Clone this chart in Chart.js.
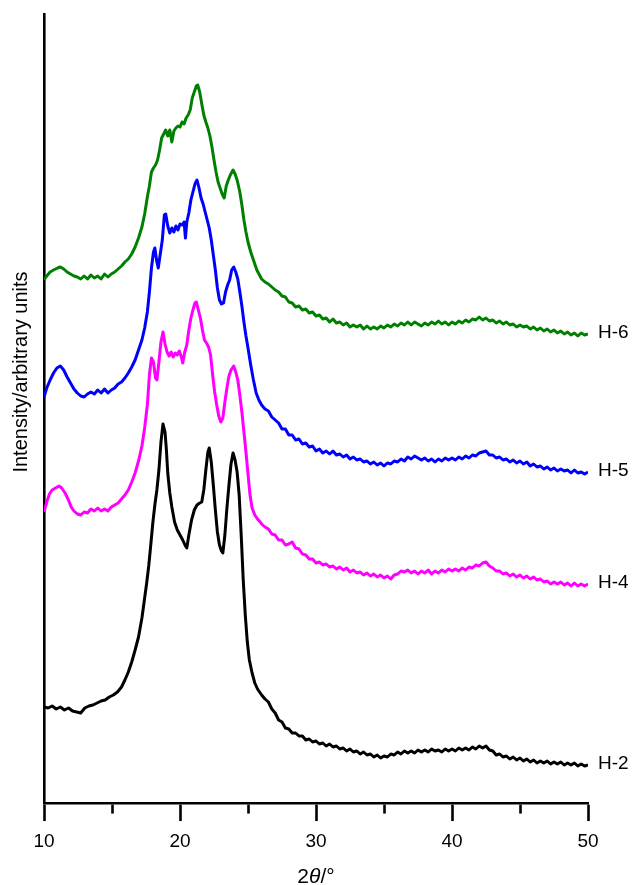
<!DOCTYPE html>
<html>
<head>
<meta charset="utf-8">
<script src="https://cdn.jsdelivr.net/npm/chart.js@4"></script>
<style>
html,body{margin:0;padding:0;background:#fff;}
#wrap{width:632px;height:885px;}
</style>
</head>
<body>
<div id="wrap"><canvas id="c" width="632" height="885"></canvas></div>
<script>
// ---- data (2θ in degrees, intensity in arbitrary units) ----
const xTicks = [10, 20, 30, 40, 50];
const seriesNames = ["H-6", "H-5", "H-4", "H-2"];
const seriesColors = ["#008000", "#0000ff", "#ff00ff", "#000000"];

// 2θ positions of the flat tail (26°–50°), shared by all four patterns
const tailX = [26,26.25,26.5,26.75,27,27.25,27.5,27.75,28,28.25,
  28.5,28.75,29,29.25,29.5,29.75,30,30.25,30.5,30.75,
  31,31.25,31.5,31.75,32,32.25,32.5,32.75,33,33.25,
  33.5,33.75,34,34.25,34.5,34.75,35,35.25,35.5,35.75,
  36,36.25,36.5,36.75,37,37.25,37.5,37.75,38,38.25,
  38.5,38.75,39,39.25,39.5,39.75,40,40.25,40.5,40.75,
  41,41.25,41.5,41.75,42,42.25,42.5,42.75,43,43.25,
  43.5,43.75,44,44.25,44.5,44.75,45,45.25,45.5,45.75,
  46,46.25,46.5,46.75,47,47.25,47.5,47.75,48,48.25,
  48.5,48.75,49,49.25,49.5,49.75,50];

const h6X = [10.0,10.2,10.45,10.7,11.0,11.2,11.45,11.7,11.95,12.2,12.45,12.7,12.95,13.2,13.45,13.7,13.95,14.2,14.45,14.7,14.95,15.2,15.45,15.7,15.95,16.2,16.45,16.7,16.95,17.2,17.4,17.6,17.75,17.9,18.05,18.2,18.35,18.5,18.65,18.8,18.95,19.1,19.25,19.4,19.55,19.7,19.85,20.0,20.15,20.3,20.45,20.6,20.75,20.9,21.05,21.2,21.3,21.45,21.6,21.75,21.9,22.05,22.2,22.35,22.5,22.65,22.8,22.95,23.1,23.25,23.4,23.55,23.7,23.9,24.05,24.2,24.4,24.55,24.7,24.85,25.0,25.2,25.4,25.65].concat(tailX);
const h6Y = [523,527,531,533,535,536,534,531,529,527,526,524,527,524,528,525,527,524,529,526,529,531,534,537,541,544,549,556,565,576,589,606,617,631,635,638,643,653,665,669,673,667,673,661,672,675,677,676,681,679,685,688,693,705,711,717,718,711,699,688,681,675,667,656,643,631,621,615,609,605,617,623,628,633,629,623,611,598,583,571,561,551,543,533,
  524,521,519,516,513,511,507,506,501,500,
  496,497,493,494,490,491,487,488,484,485,
  481,484,480,481,478,480,476,478,476,478,
  474,477,474,476,474,477,475,478,476,479,
  477,480,478,481,478,481,479,477,480,478,
  481,479,482,479,481,478,481,479,482,480,
  483,481,484,483,486,483,485,482,483,480,
  482,479,481,478,479,476,478,476,477,474,
  476,473,475,472,474,471,473,470,472,469,
  471,468,470,467,470,468,469];

const h5X = [10.0,10.2,10.45,10.7,10.95,11.2,11.45,11.7,11.95,12.2,12.45,12.7,12.95,13.2,13.45,13.7,13.95,14.2,14.45,14.7,14.95,15.2,15.45,15.7,15.95,16.2,16.45,16.7,16.95,17.2,17.4,17.6,17.75,17.9,18.05,18.15,18.3,18.4,18.55,18.7,18.85,18.95,19.1,19.25,19.4,19.55,19.7,19.85,20.0,20.15,20.3,20.4,20.5,20.65,20.8,20.95,21.1,21.25,21.4,21.55,21.7,21.85,22.0,22.15,22.3,22.45,22.6,22.75,22.9,23.05,23.2,23.35,23.5,23.65,23.8,23.95,24.1,24.25,24.4,24.55,24.7,24.85,25.0,25.2,25.4,25.6,25.8].concat(tailX);
const h5Y = [406,415,423,430,435,437,433,426,420,414,410,407,406,409,411,409,413,410,414,410,413,415,419,421,425,430,436,443,453,463,475,491,511,535,551,555,541,535,549,563,588,589,577,570,575,571,577,573,579,578,581,565,581,590,603,611,619,623,615,605,599,591,583,575,563,548,533,515,503,499,500,511,518,523,533,536,531,524,511,497,481,467,455,438,423,410,403,
  398,394,392,386,383,380,374,374,368,368,
  363,364,359,360,356,357,352,354,350,352,
  349,352,348,349,346,348,344,346,343,344,
  341,342,339,341,338,340,337,340,339,342,
  341,344,342,346,344,347,345,343,345,342,
  344,341,344,342,345,343,345,343,346,344,
  347,345,348,347,350,351,352,348,348,345,
  346,343,344,341,343,340,342,339,341,337,
  339,336,337,334,336,333,335,332,334,332,
  333,330,333,330,331,329,331];

const h4X = [10.0,10.2,10.4,10.6,10.85,11.1,11.3,11.55,11.8,12.0,12.2,12.45,12.7,12.95,13.2,13.45,13.7,13.95,14.2,14.45,14.7,14.95,15.2,15.45,15.7,15.95,16.2,16.45,16.7,16.95,17.2,17.4,17.6,17.75,17.9,18.05,18.2,18.3,18.45,18.6,18.75,18.9,19.05,19.2,19.35,19.5,19.65,19.8,19.95,20.1,20.2,20.35,20.5,20.65,20.8,20.95,21.1,21.2,21.35,21.5,21.65,21.8,21.95,22.1,22.25,22.4,22.55,22.7,22.85,23.0,23.15,23.3,23.45,23.6,23.75,23.95,24.1,24.25,24.4,24.55,24.7,24.85,25.0,25.15,25.3,25.5,25.7,25.9].concat(tailX);
const h4Y = [291,301,309,313,315,317,315,310,303,296,292,289,288,291,290,294,292,295,292,294,292,296,298,300,304,308,313,321,330,342,357,375,398,428,445,441,425,423,441,461,471,459,451,447,451,446,450,448,452,446,440,451,458,473,485,493,500,501,493,485,473,463,460,456,448,428,411,398,387,381,385,401,415,427,433,437,431,423,408,391,371,351,329,308,295,288,284,281,
  279,276,274,269,268,263,263,258,259,261,
  255,254,249,248,244,244,240,241,238,239,
  236,237,234,236,233,235,231,233,230,231,
  228,230,227,229,226,228,225,227,224,228,
  229,232,231,233,230,232,229,232,230,233,
  229,232,230,233,231,234,232,234,232,235,
  233,236,235,238,237,240,241,237,235,232,
  232,229,230,227,229,226,228,225,227,224,
  226,223,224,221,222,219,221,219,221,218,
  220,217,220,217,219,217,219];

const h2X = [10.0,10.3,10.6,10.9,11.2,11.5,11.8,12.1,12.4,12.7,13.0,13.3,13.6,13.9,14.2,14.5,14.8,15.1,15.4,15.7,15.95,16.2,16.45,16.7,16.95,17.2,17.4,17.55,17.7,17.85,18.0,18.15,18.3,18.45,18.6,18.75,18.9,19.0,19.1,19.25,19.4,19.6,19.8,20.0,20.2,20.4,20.5,20.65,20.85,21.05,21.25,21.45,21.6,21.75,21.9,22.05,22.15,22.3,22.45,22.6,22.75,22.9,23.05,23.15,23.3,23.45,23.6,23.75,23.9,24.05,24.2,24.35,24.5,24.65,24.8,24.95,25.1,25.3,25.5,25.7].concat(tailX);
const h2Y = [96,95,97,94,96,93,95,92,91,90,95,97,98,100,102,103,106,108,111,116,123,131,141,153,166,185,205,220,237,258,280,298,313,333,361,379,371,353,330,310,296,281,273,268,263,257,255,268,283,293,298,300,301,313,333,351,355,341,318,293,271,258,252,250,268,295,318,339,350,343,331,308,268,223,188,161,143,130,120,114,
  108,104,101,94,90,83,81,75,74,70,
  70,67,67,63,64,61,62,59,60,57,
  59,56,57,54,55,52,54,51,52,49,
  51,48,49,46,48,45,47,46,49,48,
  51,49,52,50,52,50,53,51,53,51,
  54,52,53,51,54,52,54,52,55,53,
  55,53,56,54,57,55,57,53,52,48,
  49,46,47,44,46,43,45,42,44,41,
  43,40,42,40,42,39,41,39,41,38,
  40,38,40,37,39,37,38];

const seriesX = [h6X, h5X, h4X, h2X];
const seriesY = [h6Y, h5Y, h4Y, h2Y];

const FONT = '"Liberation Sans", Arial, Helvetica, sans-serif';

const datasets = seriesNames.map((name, i) => ({
  label: name,
  data: seriesX[i].map((x, j) => ({x: x, y: seriesY[i][j]})),
  borderColor: seriesColors[i],
  backgroundColor: seriesColors[i],
  borderWidth: 3,
  pointRadius: 0,
  tension: 0,
  fill: false,
  borderJoinStyle: 'round'
}));

const annotatePlugin = {
  id: 'annotate',
  afterDraw(chart) {
    const ctx = chart.ctx;
    const area = chart.chartArea;
    ctx.save();
    ctx.fillStyle = '#000';
    // y-axis title
    ctx.save();
    ctx.translate(27, 372);
    ctx.rotate(-Math.PI / 2);
    ctx.font = '20px ' + FONT;
    ctx.textAlign = 'center';
    ctx.textBaseline = 'alphabetic';
    ctx.fillText('Intensity/arbitrary units', 0, 0);
    ctx.restore();
    // x-axis title: 2θ/° with italic θ
    const parts = [['2', 'normal'], ['\u03b8', 'italic'], ['/\u00b0', 'normal']];
    let total = 0;
    parts.forEach(p => { ctx.font = p[1] + ' 21px ' + FONT; total += ctx.measureText(p[0]).width; });
    let x = (area.left + area.right) / 2 - total / 2;
    ctx.textBaseline = 'alphabetic';
    ctx.textAlign = 'left';
    parts.forEach(p => {
      ctx.font = p[1] + ' 21px ' + FONT;
      ctx.fillText(p[0], x, 883);
      x += ctx.measureText(p[0]).width;
    });
    // series labels at the right end of each curve
    ctx.font = '19px ' + FONT;
    ctx.textBaseline = 'middle';
    chart.data.datasets.forEach((ds, i) => {
      const meta = chart.getDatasetMeta(i);
      const last = meta.data[meta.data.length - 1];
      ctx.fillText(ds.label, area.right + 10, last.y - 1);
    });
    ctx.restore();
  }
};

new Chart(document.getElementById('c'), {
  type: 'line',
  data: { datasets: datasets },
  options: {
    responsive: false,
    animation: false,
    layout: { padding: { top: 14, right: 44, left: 0, bottom: 0 } },
    plugins: { legend: { display: false }, tooltip: { enabled: false }, title: { display: false } },
    scales: {
      x: {
        type: 'linear',
        min: 10,
        max: 50,
        afterFit(scale) { scale.height = 82; },
        afterBuildTicks(scale) {
          const t = [];
          for (let v = 10; v <= 50; v += 5) t.push({value: v});
          scale.ticks = t;
        },
        border: { display: true, color: '#000', width: 2.6 },
        grid: {
          drawOnChartArea: false,
          drawTicks: true,
          tickLength: 18,
          tickWidth: 2.6,
          tickColor: '#000',
          tickBorderDash: (c) => (xTicks.includes(c.tick.value) ? [] : [9, 100])
        },
        ticks: {
          color: '#000',
          font: { size: 19, family: FONT },
          padding: 9,
          maxRotation: 0,
          autoSkip: false,
          callback: (v) => (xTicks.includes(v) ? String(v) : '')
        }
      },
      y: {
        type: 'linear',
        min: 0,
        max: 789,
        afterFit(scale) { scale.width = 44; },
        border: { display: true, color: '#000', width: 2.6 },
        grid: { display: false },
        ticks: { display: false }
      }
    }
  },
  plugins: [annotatePlugin]
});
</script>
</body>
</html>
